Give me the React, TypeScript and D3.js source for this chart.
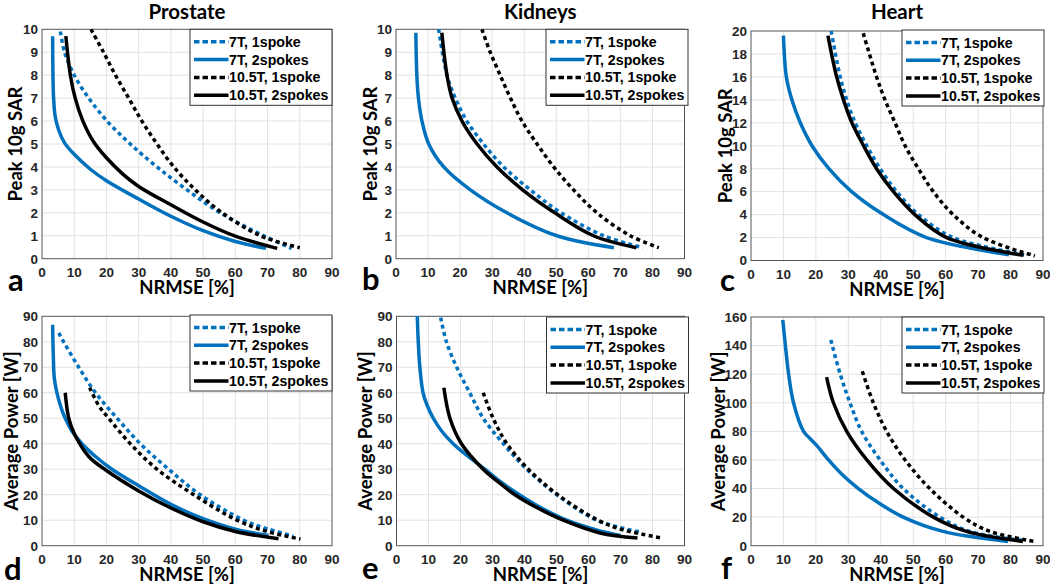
import React from 'react';
import * as d3 from 'd3';

type Pt = [number, number];

// ---------- data ----------
const organTitles = ['Prostate', 'Kidneys', 'Heart'];
const seriesNames = ['7T, 1spoke', '7T, 2spokes', '10.5T, 1spoke', '10.5T, 2spokes'];
const panelLetters = ['a', 'b', 'c', 'd', 'e', 'f'];
const sarLabel = 'Peak 10g SAR';
const powerLabel = 'Average Power [W]';
const xLabel = 'NRMSE [%]';

const xTicks = [0, 10, 20, 30, 40, 50, 60, 70, 80, 90];
const sarTicksA = [0, 1, 2, 3, 4, 5, 6, 7, 8, 9, 10];
const sarTicksC = [0, 2, 4, 6, 8, 10, 12, 14, 16, 18, 20];
const powerTicksD = [0, 10, 20, 30, 40, 50, 60, 70, 80, 90];
const powerTicksF = [0, 20, 40, 60, 80, 100, 120, 140, 160];

// Prostate – SAR
const aSar7T1: Pt[] = [[5.7, 9.9], [7, 9], [10, 8], [14.5, 7], [20.2, 6], [27.4, 5], [35.7, 4], [45, 3], [55.3, 2], [68.8, 1], [77.5, 0.45]];
const aSar7T2: Pt[] = [[3.3, 9.7], [3.4, 8], [3.6, 7], [4.1, 6.2], [5.2, 5.6], [7, 5.05], [10, 4.55], [15, 3.9], [20, 3.4], [30, 2.6], [40, 1.85], [50, 1.22], [60, 0.75], [69.5, 0.45]];
const aSar10T1: Pt[] = [[15.2, 10], [19.1, 9], [22.8, 8], [26.9, 7], [31, 6], [35.7, 5], [40.9, 4], [47.6, 3], [55.9, 2], [67.8, 1], [80, 0.48]];
const aSar10T2: Pt[] = [[7.4, 9.7], [8.8, 8], [10.3, 7], [12.7, 6], [16, 5.1], [20, 4.4], [25, 3.7], [30, 3.15], [40, 2.35], [50, 1.6], [60, 0.98], [73, 0.45]];

// Kidneys – SAR
const bSar7T1: Pt[] = [[13.3, 10], [15.9, 8], [18.5, 7], [22.1, 6], [27.3, 5], [33.6, 4], [41.9, 3], [51.5, 2], [64.8, 1], [77, 0.48]];
const bSar7T2: Pt[] = [[6.2, 9.85], [6.5, 8], [7, 7], [8.1, 6], [10.2, 5], [14.9, 4], [23.2, 3], [34.6, 2], [50.2, 1], [68, 0.48]];
const bSar10T1: Pt[] = [[26.8, 10], [29.4, 9], [32.5, 8], [35.7, 7], [39.3, 6], [44, 5], [49.2, 4], [55.4, 3], [62.7, 2], [73.1, 1], [82, 0.48]];
const bSar10T2: Pt[] = [[14.3, 9.85], [15.9, 8], [17.5, 7], [20.6, 6], [25.3, 5], [31.5, 4], [39.5, 3], [49.5, 2], [61.6, 1], [75, 0.48]];

// Heart – SAR
const cSar7T1: Pt[] = [[24.7, 20], [27.5, 16], [29.5, 14], [32.1, 12], [35.7, 10], [39.8, 8], [44.9, 6], [51.6, 4], [62.3, 2], [84.4, 0.5]];
const cSar7T2: Pt[] = [[10, 19.6], [10.9, 16], [12.6, 14], [15.2, 12], [18.8, 10], [24, 8], [31, 6], [40.8, 4], [54.1, 2], [79.5, 0.5]];
const cSar10T1: Pt[] = [[34.6, 19.8], [38.7, 16], [41.3, 14], [44.4, 12], [47.5, 10], [51.6, 8], [56.2, 6], [62.3, 4], [71.5, 2], [87.5, 0.4]];
const cSar10T2: Pt[] = [[23.7, 19.6], [26.4, 16], [28.5, 14], [31.1, 12], [34.7, 10], [38.7, 8], [43.9, 6], [50.5, 4], [60.3, 2], [84, 0.45]];

// Prostate – power
const dPow7T1: Pt[] = [[5.2, 83.5], [6.7, 80], [11.4, 70], [16.6, 60], [23.3, 50], [30.5, 40], [39.3, 30], [49.1, 20], [62.6, 10], [70, 6.6], [78, 3.7]];
const dPow7T2: Pt[] = [[3.3, 86.7], [3.5, 75], [3.9, 65], [5.7, 55], [7.2, 50], [9.3, 45], [12.4, 40], [16.6, 35], [21.7, 30], [30, 23.5], [40, 16.2], [50, 10.6], [60, 6.5], [70.3, 4]];
const dPow10T1: Pt[] = [[14.8, 62], [17.6, 55], [20.7, 50], [27.4, 40], [35.7, 30], [47.1, 20], [60.5, 10], [70, 5.5], [80.2, 2.6]];
const dPow10T2: Pt[] = [[7.2, 60], [8.3, 50], [10, 44], [14.5, 35], [20, 29.5], [30, 21.5], [40, 14.8], [50, 9.4], [60, 5.6], [73.4, 2.7]];

// Kidneys – power
const ePow7T1: Pt[] = [[13.8, 89.5], [15.6, 80], [18.8, 70], [22.9, 60], [27.1, 50], [33.4, 40], [40.7, 30], [50.1, 20], [62.6, 10], [76.7, 5.2]];
const ePow7T2: Pt[] = [[6.5, 90], [6.8, 80], [7.3, 70], [8.3, 60], [9.6, 55], [11.5, 50], [14.1, 45], [17.7, 40], [22.4, 35], [27.6, 30], [32.6, 25], [38.4, 20], [45, 15], [53.2, 10], [63, 6], [70, 4]];
const ePow10T1: Pt[] = [[27.1, 60], [30.2, 50], [34.5, 40], [41.2, 30], [50.4, 20], [63, 10], [70, 6.5], [82.9, 3]];
const ePow10T2: Pt[] = [[14.8, 62], [16.7, 50], [20.3, 40], [27.1, 30], [31.8, 25], [37, 20], [43.8, 15], [52.1, 10], [63.6, 5], [75.3, 3]];

// Heart – power
const fPow7T1: Pt[] = [[24.6, 144], [27.5, 120], [30.5, 100], [34.1, 80], [39.8, 60], [46.9, 40], [58.2, 20], [67.4, 10], [84.4, 3.5]];
const fPow7T2: Pt[] = [[9.8, 158], [10.6, 140], [11.6, 120], [13.1, 100], [16.2, 80], [18.2, 75], [20.3, 70], [23.9, 60], [28, 50], [33.1, 40], [39.3, 30], [46.9, 20], [59.2, 10], [79.2, 3]];
const fPow10T1: Pt[] = [[34.3, 122], [37.7, 100], [41.8, 80], [47.5, 60], [55.1, 40], [65.4, 20], [73.6, 10], [87.4, 3]];
const fPow10T2: Pt[] = [[23.3, 118], [25.4, 100], [29.5, 80], [35.7, 60], [43.9, 40], [56.2, 20], [66.4, 10], [83.8, 3]];

// ---------- styles / layout ----------
const BLUE = '#0072BD';
const seriesStyle = [
  { color: BLUE, dashed: true },
  { color: BLUE, dashed: false },
  { color: '#000000', dashed: true },
  { color: '#000000', dashed: false },
];

const labelFont = 'Lato, "Open Sans", sans-serif';
const tickFont = '"Liberation Sans", Arial, sans-serif';

interface PanelCfg {
  title?: string;
  yLabel: string;
  letter: string;
  x0: number; x1: number; y0: number; y1: number;
  yTicks: number[];
  series: Pt[][];
  legX: number; legY: number;
  yLabX: number;
  letX: number; letY: number;
}

const panels: PanelCfg[] = [
  { title: organTitles[0], yLabel: sarLabel, letter: panelLetters[0], x0: 42, x1: 332, y0: 29.3, y1: 258.7, yTicks: sarTicksA, series: [aSar7T1, aSar7T2, aSar10T1, aSar10T2], legX: 190, legY: 29.3, yLabX: 22, letX: 8, letY: 291 },
  { title: organTitles[1], yLabel: sarLabel, letter: panelLetters[1], x0: 396, x1: 684.5, y0: 29.3, y1: 258.7, yTicks: sarTicksA, series: [bSar7T1, bSar7T2, bSar10T1, bSar10T2], legX: 546, legY: 29.3, yLabX: 377, letX: 362, letY: 290 },
  { title: organTitles[2], yLabel: sarLabel, letter: panelLetters[2], x0: 751, x1: 1043, y0: 31, y1: 260.5, yTicks: sarTicksC, series: [cSar7T1, cSar7T2, cSar10T1, cSar10T2], legX: 902, legY: 30, yLabX: 732, letX: 720, letY: 291 },
  { yLabel: powerLabel, letter: panelLetters[3], x0: 42, x1: 332, y0: 316.3, y1: 545.7, yTicks: powerTicksD, series: [dPow7T1, dPow7T2, dPow10T1, dPow10T2], legX: 190, legY: 315, yLabX: 18, letX: 4, letY: 580 },
  { yLabel: powerLabel, letter: panelLetters[4], x0: 396.5, x1: 684.5, y0: 316.3, y1: 545.7, yTicks: powerTicksD, series: [ePow7T1, ePow7T2, ePow10T1, ePow10T2], legX: 546.5, legY: 317, yLabX: 372, letX: 362, letY: 579 },
  { yLabel: powerLabel, letter: panelLetters[5], x0: 751, x1: 1043, y0: 317, y1: 545.7, yTicks: powerTicksF, series: [fPow7T1, fPow7T2, fPow10T1, fPow10T2], legX: 902, legY: 317, yLabX: 725, letX: 721, letY: 579 },
];

function Panel({ cfg, idx }: { cfg: PanelCfg; idx: number }) {
  const x = d3.scaleLinear().domain([0, 90]).range([cfg.x0, cfg.x1]);
  const yMax = cfg.yTicks[cfg.yTicks.length - 1];
  const y = d3.scaleLinear().domain([0, yMax]).range([cfg.y1, cfg.y0]);
  const line = d3.line<Pt>().x(d => x(d[0])).y(d => y(d[1])).curve(d3.curveCatmullRom.alpha(0.5));
  const clipId = `clip-${idx}`;
  const cx = (cfg.x0 + cfg.x1) / 2;
  const cy = (cfg.y0 + cfg.y1) / 2;
  const legW = 142;
  const legH = 76;
  return (
    <g>
      <defs>
        <clipPath id={clipId}>
          <rect x={cfg.x0} y={cfg.y0 - 1} width={cfg.x1 - cfg.x0} height={cfg.y1 - cfg.y0 + 1} />
        </clipPath>
      </defs>
      <rect x={cfg.x0} y={cfg.y0} width={cfg.x1 - cfg.x0} height={cfg.y1 - cfg.y0} fill="#ffffff" />
      {xTicks.slice(1, -1).map(t => (
        <line key={'gx' + t} x1={x(t)} x2={x(t)} y1={cfg.y0} y2={cfg.y1} stroke="#e2e2e2" strokeWidth={1} />
      ))}
      {cfg.yTicks.slice(1, -1).map(t => (
        <line key={'gy' + t} x1={cfg.x0} x2={cfg.x1} y1={y(t)} y2={y(t)} stroke="#e2e2e2" strokeWidth={1} />
      ))}
      <rect x={cfg.x0} y={cfg.y0} width={cfg.x1 - cfg.x0} height={cfg.y1 - cfg.y0} fill="none" stroke="#555555" strokeWidth={1} />
      {xTicks.map(t => (
        <text key={'tx' + t} x={x(t)} y={cfg.y1 + 18} textAnchor="middle" fontFamily={tickFont} fontWeight="bold" fontSize={13.5} fill="#262626">{t}</text>
      ))}
      {cfg.yTicks.map(t => (
        <text key={'ty' + t} x={cfg.x0 - 4} y={y(t) + 4.8} textAnchor="end" fontFamily={tickFont} fontWeight="bold" fontSize={13.5} fill="#262626">{t}</text>
      ))}
      <g clipPath={`url(#${clipId})`}>
        {cfg.series.map((s, i) => (
          <path key={'s' + i} d={line(s) || ''} fill="none" stroke={seriesStyle[i].color} strokeWidth={3.5}
            strokeDasharray={seriesStyle[i].dashed ? '4 3.4' : undefined} strokeLinejoin="round" />
        ))}
      </g>
      <rect x={cfg.legX} y={cfg.legY} width={legW} height={legH} fill="#ffffff" stroke="#333333" strokeWidth={1} />
      {seriesNames.map((n, i) => {
        const ry = cfg.legY + 12.5 + i * 17.8;
        return (
          <g key={'l' + i}>
            <line x1={cfg.legX + 4} x2={cfg.legX + 38.5} y1={ry} y2={ry} stroke={seriesStyle[i].color} strokeWidth={3.5}
              strokeDasharray={seriesStyle[i].dashed ? '5.5 3' : undefined} />
            <text x={cfg.legX + 39} y={ry + 5} fontFamily={tickFont} fontWeight="bold" fontSize={14.2} fill="#000000">{n}</text>
          </g>
        );
      })}
      {cfg.title && (
        <text x={cx} y={18.5} textAnchor="middle" fontFamily={labelFont} fontWeight="bold" fontSize={20.5} fill="#000000">{cfg.title}</text>
      )}
      <text x={cx} y={cfg.y1 + 35} textAnchor="middle" fontFamily={labelFont} fontWeight="bold" fontSize={18.5} fill="#000000">{xLabel}</text>
      <text transform={`translate(${cfg.yLabX},${cy}) rotate(-90)`} textAnchor="middle" fontFamily={labelFont} fontWeight="bold" fontSize={18.5} fill="#000000">{cfg.yLabel}</text>
      <text x={cfg.letX} y={cfg.letY} fontFamily={labelFont} fontWeight="bold" fontSize={31} fill="#000000">{cfg.letter}</text>
    </g>
  );
}

export default function App() {
  return (
    <svg width={1050} height={586} viewBox="0 0 1050 586" style={{ position: 'absolute', left: 0, top: 0, background: '#ffffff' }}>
      <rect x={0} y={0} width={1050} height={586} fill="#ffffff" />
      {panels.map((p, i) => <Panel key={i} cfg={p} idx={i} />)}
    </svg>
  );
}
